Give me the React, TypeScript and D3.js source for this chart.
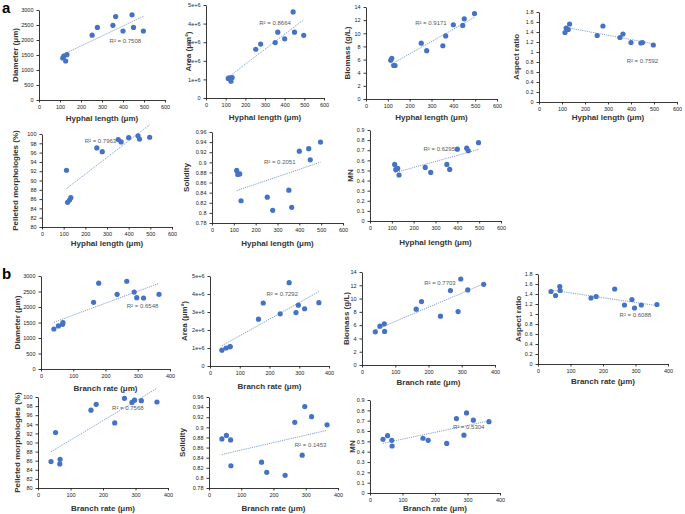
import React, { useEffect, useRef } from 'react';
import * as d3 from 'd3';

// sample x values, one per culture
const hyphalLength = [113, 118, 127, 133, 253, 278, 352, 365, 400, 443, 450, 497];
const branchRate = [40, 54, 67, 68, 163, 179, 236, 266, 289, 297, 318, 366];

// row a (vs hyphal length)
const diameterA = [1400, 1460, 1300, 1510, 2160, 2420, 2490, 2780, 2300, 2840, 2420, 2300];
const areaA = [1.05e6, 1.08e6, 0.9e6, 1.1e6, 2.62e6, 2.9e6, 2.98e6, 3.54e6, 3.18e6, 4.63e6, 3.54e6, 3.37e6];
const biomassA = [5.9, 6.2, 5.1, 5.1, 8.5, 7.35, 8.1, 9.6, 11.3, 11.2, 12.2, 13.0];
const aspectA = [1.39, 1.48, 1.45, 1.56, 1.33, 1.52, 1.29, 1.36, 1.19, 1.18, 1.19, 1.14];
const pelletedA = [92.2, 85.3, 85.8, 86.3, 97.0, 96.2, 98.8, 98.3, 99.2, 99.6, 98.9, 99.3];
const solidityA = [0.884, 0.876, 0.877, 0.824, 0.831, 0.805, 0.845, 0.811, 0.922, 0.927, 0.905, 0.94];
const mnA = [0.56, 0.51, 0.52, 0.455, 0.53, 0.48, 0.56, 0.51, 0.71, 0.72, 0.695, 0.775];
const r2A = ['0.7508', '0.8664', '0.9171', '0.7592', '0.7963', '0.2051', '0.6295'];

// row b (vs branch rate)
const diameterB = [1290, 1390, 1440, 1500, 2150, 2770, 2410, 2830, 2480, 2300, 2290, 2410];
const areaB = [0.88e6, 1.0e6, 1.07e6, 1.08e6, 2.6e6, 3.5e6, 2.9e6, 4.63e6, 2.97e6, 3.38e6, 3.18e6, 3.52e6];
const biomassB = [5.0, 5.85, 6.2, 5.05, 8.4, 9.55, 7.35, 11.2, 8.05, 12.95, 11.3, 12.15];
const aspectB = [1.45, 1.37, 1.55, 1.47, 1.32, 1.35, 1.5, 1.18, 1.29, 1.12, 1.18, 1.19];
const pelletedB = [85.8, 92.2, 85.3, 86.3, 97.1, 98.4, 94.3, 99.7, 98.8, 99.3, 99.2, 98.9];
const solidityB = [0.877, 0.884, 0.875, 0.824, 0.831, 0.811, 0.805, 0.91, 0.845, 0.941, 0.921, 0.905];
const mnB = [0.52, 0.555, 0.51, 0.455, 0.53, 0.51, 0.48, 0.72, 0.56, 0.775, 0.705, 0.69];
const r2B = ['0.6548', '0.7292', '0.7703', '0.6088', '0.7568', '0.1453', '0.5304'];

// ticks
const hyphalTicks = [0, 100, 200, 300, 400, 500, 600];
const branchTicks = [0, 100, 200, 300, 400];
const diameterTicks = [0, 500, 1000, 1500, 2000, 2500, 3000];
const areaTicks = [0, 1e6, 2e6, 3e6, 4e6, 5e6];
const biomassTicks = [0, 2, 4, 6, 8, 10, 12, 14];
const aspectTicks = [0, 0.2, 0.4, 0.6, 0.8, 1, 1.2, 1.4, 1.6, 1.8];
const pelletedTicks = [80, 82, 84, 86, 88, 90, 92, 94, 96, 98, 100];
const solidityTicks = [0.78, 0.8, 0.82, 0.84, 0.86, 0.88, 0.9, 0.92, 0.94, 0.96];
const mnTicks = [0, 0.1, 0.2, 0.3, 0.4, 0.5, 0.6, 0.7, 0.8, 0.9];

const FONT = '"Liberation Sans Narrow", "Liberation Sans", Arial, sans-serif';
const DOT = '#4472c4';
const TREND = '#7f9fd6';

const areaFmt = (d: number) => (d === 0 ? '0' : `${d / 1e6}e+6`);
const numFmt = (d: number) => String(+d.toFixed(2));

// box = [left, top, right, bottom] of the plot area; r2At in data units
const panels = [
  { x: hyphalLength, xTicks: hyphalTicks, xTitle: 'Hyphal length (μm)', y: diameterA, yTicks: diameterTicks, yTitle: 'Diameter (μm)', r2: r2A[0], box: [39, 10, 165, 100], yTitleX: 15, xTitleY: 118, r2At: [336, 1900] },
  { x: hyphalLength, xTicks: hyphalTicks, xTitle: 'Hyphal length (μm)', y: areaA, yTicks: areaTicks, yTitle: 'Area (μm²)', r2: r2A[1], box: [206, 5, 324, 98], yTitleX: 188, xTitleY: 117, r2At: [271, 3.95e6], fmt: areaFmt },
  { x: hyphalLength, xTicks: hyphalTicks, xTitle: 'Hyphal length (μm)', y: biomassA, yTicks: biomassTicks, yTitle: 'Biomass (g/L)', r2: r2A[2], box: [366, 7, 497, 99], yTitleX: 347, xTitleY: 117, r2At: [225, 11.3] },
  { x: hyphalLength, xTicks: hyphalTicks, xTitle: 'Hyphal length (μm)', y: aspectA, yTicks: aspectTicks, yTitle: 'Aspect ratio', r2: r2A[3], box: [539, 12, 677, 102], yTitleX: 516, xTitleY: 117, r2At: [381, 0.79] },
  { x: hyphalLength, xTicks: hyphalTicks, xTitle: 'Hyphal length (μm)', y: pelletedA, yTicks: pelletedTicks, yTitle: 'Pelleted morphologies (%)', r2: r2A[4], box: [42, 134, 172, 227], yTitleX: 15, xTitleY: 243, r2At: [197, 98.0] },
  { x: hyphalLength, xTicks: hyphalTicks, xTitle: 'Hyphal length (μm)', y: solidityA, yTicks: solidityTicks, yTitle: 'Solidity', r2: r2A[5], box: [212, 132, 343, 223], yTitleX: 186, xTitleY: 243, r2At: [238, 0.896] },
  { x: hyphalLength, xTicks: hyphalTicks, xTitle: 'Hyphal length (μm)', y: mnA, yTicks: mnTicks, yTitle: 'MN', r2: r2A[6], box: [370, 130, 501, 221], yTitleX: 350, xTitleY: 242, r2At: [245, 0.69] },
  { x: branchRate, xTicks: branchTicks, xTitle: 'Branch rate (μm)', y: diameterB, yTicks: diameterTicks, yTitle: 'Diameter (μm)', r2: r2B[0], box: [41, 276, 170, 369], yTitleX: 17, xTitleY: 388, r2At: [266, 1960] },
  { x: branchRate, xTicks: branchTicks, xTitle: 'Branch rate (μm)', y: areaB, yTicks: areaTicks, yTitle: 'Area (μm²)', r2: r2B[1], box: [210, 276, 329, 366], yTitleX: 184, xTitleY: 386, r2At: [190, 3.9e6], fmt: areaFmt },
  { x: branchRate, xTicks: branchTicks, xTitle: 'Branch rate (μm)', y: biomassB, yTicks: biomassTicks, yTitle: 'Biomass (g/L)', r2: r2B[2], box: [362, 272, 495, 365], yTitleX: 346, xTitleY: 382, r2At: [187, 12.1] },
  { x: branchRate, xTicks: branchTicks, xTitle: 'Branch rate (μm)', y: aspectB, yTicks: aspectTicks, yTitle: 'Aspect ratio', r2: r2B[3], box: [538, 274, 668, 364], yTitleX: 518, xTitleY: 381, r2At: [251, 0.95] },
  { x: branchRate, xTicks: branchTicks, xTitle: 'Branch rate (μm)', y: pelletedB, yTicks: pelletedTicks, yTitle: 'Pelleted morphologies (%)', r2: r2B[4], box: [38, 397, 168, 488], yTitleX: 17, xTitleY: 508, r2At: [228, 97.1] },
  { x: branchRate, xTicks: branchTicks, xTitle: 'Branch rate (μm)', y: solidityB, yTicks: solidityTicks, yTitle: 'Solidity', r2: r2B[5], box: [209, 397, 338, 488], yTitleX: 182, xTitleY: 508, r2At: [266, 0.862] },
  { x: branchRate, xTicks: branchTicks, xTitle: 'Branch rate (μm)', y: mnB, yTicks: mnTicks, yTitle: 'MN', r2: r2B[6], box: [370, 400, 500, 493], yTitleX: 352, xTitleY: 508, r2At: [255, 0.615] },
];

function fitLine(xs: number[], ys: number[]) {
  const mx = d3.mean(xs) as number;
  const my = d3.mean(ys) as number;
  const sxy = d3.sum(xs, (v, i) => (v - mx) * (ys[i] - my));
  const sxx = d3.sum(xs, v => (v - mx) ** 2);
  const b = sxy / sxx;
  return { a: my - b * mx, b };
}

export default function App() {
  const ref = useRef<SVGSVGElement>(null);

  useEffect(() => {
    const svg = d3.select(ref.current);
    svg.selectAll('*').remove();

    panels.forEach(p => {
      const [l, t, r, b] = p.box;
      const fmt = p.fmt || numFmt;
      const x = d3.scaleLinear().domain([p.xTicks[0], p.xTicks[p.xTicks.length - 1]]).range([l, r]);
      const y = d3.scaleLinear().domain([p.yTicks[0], p.yTicks[p.yTicks.length - 1]]).range([b, t]);
      const g = svg.append('g');

      // axes
      const xg = g.append('g').attr('transform', `translate(0,${b})`)
        .call(d3.axisBottom(x).tickValues(p.xTicks).tickSize(2.5).tickPadding(2.5).tickSizeOuter(0).tickFormat(d => String(d)));
      const yg = g.append('g').attr('transform', `translate(${l},0)`)
        .call(d3.axisLeft(y).tickValues(p.yTicks).tickSize(2.5).tickPadding(3).tickSizeOuter(0).tickFormat(d => fmt(+d)));
      [xg, yg].forEach(ax => {
        ax.selectAll('path, line').attr('stroke', '#222').attr('stroke-width', 0.9);
        ax.selectAll('text').attr('font-size', 5.5).attr('font-family', FONT).attr('fill', '#222');
      });

      // trendline
      const { a, b: slope } = fitLine(p.x, p.y);
      const xr = d3.extent(p.x) as [number, number];
      g.append('path')
        .datum(xr)
        .attr('fill', 'none')
        .attr('stroke', TREND)
        .attr('stroke-width', 1)
        .attr('stroke-dasharray', '1.2 1')
        .attr('d', d3.line<number>().x(d => x(d)).y(d => y(a + slope * d)));

      // points
      g.selectAll('circle')
        .data(p.x)
        .enter()
        .append('circle')
        .attr('cx', d => x(d))
        .attr('cy', (d, i) => y(p.y[i]))
        .attr('r', 2.6)
        .attr('fill', DOT);

      // R² label
      g.append('text')
        .attr('x', x(p.r2At[0]))
        .attr('y', y(p.r2At[1]))
        .attr('font-size', 6)
        .attr('font-family', FONT)
        .attr('fill', '#595959')
        .text(`R² = ${p.r2}`);

      // titles
      g.append('text')
        .attr('x', (l + r) / 2)
        .attr('y', p.xTitleY)
        .attr('dy', '0.35em')
        .attr('text-anchor', 'middle')
        .attr('font-size', 8)
        .attr('font-weight', 'bold')
        .attr('font-family', FONT)
        .attr('fill', '#333')
        .text(p.xTitle);
      g.append('text')
        .attr('transform', `translate(${p.yTitleX},${(t + b) / 2}) rotate(-90)`)
        .attr('dy', '0.35em')
        .attr('text-anchor', 'middle')
        .attr('font-size', 8)
        .attr('font-weight', 'bold')
        .attr('font-family', FONT)
        .attr('fill', '#333')
        .text(p.yTitle);
    });

    // panel letters
    svg.append('text').attr('x', 2).attr('y', 13).attr('font-size', 15).attr('font-weight', 'bold')
      .attr('font-family', 'Liberation Sans, Arial, sans-serif').text('a');
    svg.append('text').attr('x', 2).attr('y', 279).attr('font-size', 15).attr('font-weight', 'bold')
      .attr('font-family', 'Liberation Sans, Arial, sans-serif').text('b');
  }, []);

  return (
    <svg ref={ref} width={685} height={514} style={{ position: 'absolute', left: 0, top: 0, background: '#fff' }} />
  );
}
